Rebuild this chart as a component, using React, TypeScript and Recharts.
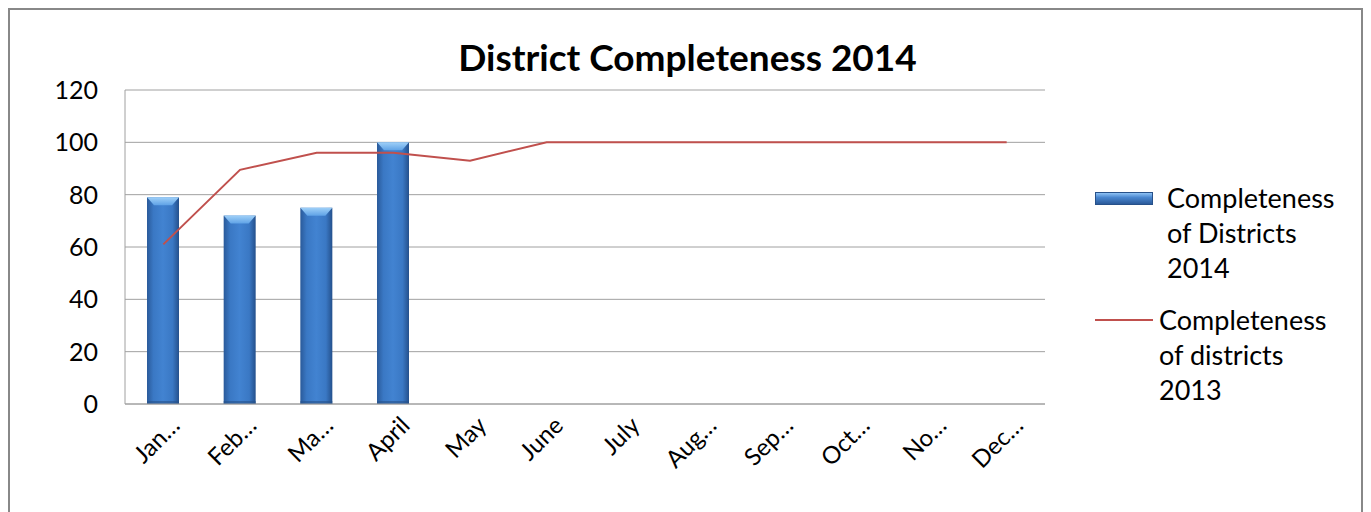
import React from 'react';
import { ComposedChart, Bar, Line, XAxis, YAxis, CartesianGrid, Legend } from 'recharts';

const MONTHS = ['Jan…', 'Feb…', 'Ma…', 'April', 'May', 'June', 'July', 'Aug…', 'Sep…', 'Oct…', 'No…', 'Dec…'];
const COMPLETENESS_2014 = [79, 72, 75, 100, null, null, null, null, null, null, null, null];
const COMPLETENESS_2013 = [61, 89.5, 96, 96, 93, 100, 100, 100, 100, 100, 100, 100];
const Y_TICKS = [0, 20, 40, 60, 80, 100, 120];

const FONT = 'Lato, "Open Sans", sans-serif';
const LINE_COLOR = '#c0504d';

const data = MONTHS.map((m, i) => ({
  month: m,
  y2014: COMPLETENESS_2014[i],
  y2013: COMPLETENESS_2013[i],
}));

const BevelBar = (props: any) => {
  const { x, y, width, height } = props;
  if (!height || height <= 0) return null;
  const bev = Math.min(8, height / 2);
  return (
    <g>
      <rect x={x} y={y} width={width} height={height} fill="url(#barGrad)" />
      <polygon
        points={`${x},${y} ${x + width},${y} ${x + width - 7},${y + bev} ${x + 7},${y + bev}`}
        fill="url(#topGrad)"
      />
      <rect x={x} y={y + height - 3} width={width} height={3} fill="#27518a" opacity={0.6} />
    </g>
  );
};

const MonthTick = (props: any) => {
  const { x, y, payload } = props;
  const tx = x + 18;
  const ty = y + 15;
  return (
    <text
      x={tx}
      y={ty}
      transform={`rotate(-45, ${tx}, ${ty})`}
      textAnchor="end"
      fontSize={24}
      fontFamily={FONT}
      fill="#000"
    >
      {payload.value}
    </text>
  );
};

const LegendBox = () => (
  <div style={{ fontFamily: FONT, fontSize: 27, lineHeight: '35px', color: '#000' }}>
    <div style={{ display: 'flex', alignItems: 'flex-start' }}>
      <div
        style={{
          width: 56,
          height: 11,
          marginTop: 12,
          marginRight: 14,
          background: 'linear-gradient(to bottom, #8fc3f5 0%, #4a87d0 40%, #2a5a9a 100%)',
          border: '1px solid #27518a',
        }}
      />
      <div>
        Completeness
        <br />
        of Districts
        <br />
        2014
      </div>
    </div>
    <div style={{ display: 'flex', alignItems: 'flex-start', marginTop: 17 }}>
      <div style={{ width: 58, height: 2, marginTop: 17, marginRight: 6, background: LINE_COLOR }} />
      <div>
        Completeness
        <br />
        of districts
        <br />
        2013
      </div>
    </div>
  </div>
);

export default function App() {
  return (
    <div
      style={{
        position: 'relative',
        width: 1351,
        height: 510,
        border: '2px solid #888',
        background: '#fff',
      }}
    >
      <div
        style={{
          position: 'absolute',
          top: 24,
          left: 0,
          width: 1355,
          textAlign: 'center',
          fontFamily: FONT,
          fontWeight: 700,
          fontSize: 37,
          color: '#000',
        }}
      >
        District Completeness 2014
      </div>
      <ComposedChart
        width={1351}
        height={510}
        data={data}
        margin={{ top: 80, right: 316, left: 0, bottom: 0 }}
      >
        <defs>
          <linearGradient id="barGrad" x1="0" y1="0" x2="1" y2="0">
            <stop offset="0%" stopColor="#2a5a9a" />
            <stop offset="20%" stopColor="#3a78c4" />
            <stop offset="50%" stopColor="#4283d1" />
            <stop offset="80%" stopColor="#3a78c4" />
            <stop offset="100%" stopColor="#24508c" />
          </linearGradient>
          <linearGradient id="topGrad" x1="0" y1="0" x2="0" y2="1">
            <stop offset="0%" stopColor="#9fd0f8" />
            <stop offset="100%" stopColor="#5fa2e6" />
          </linearGradient>
        </defs>
        <CartesianGrid vertical={false} stroke="#a0a0a0" strokeWidth={1} />
        <XAxis
          dataKey="month"
          interval={0}
          height={116}
          tickLine={false}
          stroke="#a0a0a0"
          tick={<MonthTick />}
        />
        <YAxis
          domain={[0, 120]}
          ticks={Y_TICKS}
          width={115}
          tickLine={false}
          tickSize={0}
          tickMargin={27}
          stroke="#a0a0a0"
          tick={{ fill: '#000', fontSize: 25, fontFamily: FONT }}
        />
        <Legend
          layout="horizontal"
          verticalAlign="middle"
          align="center"
          content={<LegendBox />}
          wrapperStyle={{ position: 'absolute', left: 1085, top: 170, width: 270 }}
        />
        <Bar dataKey="y2014" name="Completeness of Districts 2014" barSize={32} shape={<BevelBar />} isAnimationActive={false} />
        <Line
          dataKey="y2013"
          name="Completeness of districts 2013"
          type="linear"
          stroke={LINE_COLOR}
          strokeWidth={2}
          dot={false}
          isAnimationActive={false}
        />
      </ComposedChart>
    </div>
  );
}
